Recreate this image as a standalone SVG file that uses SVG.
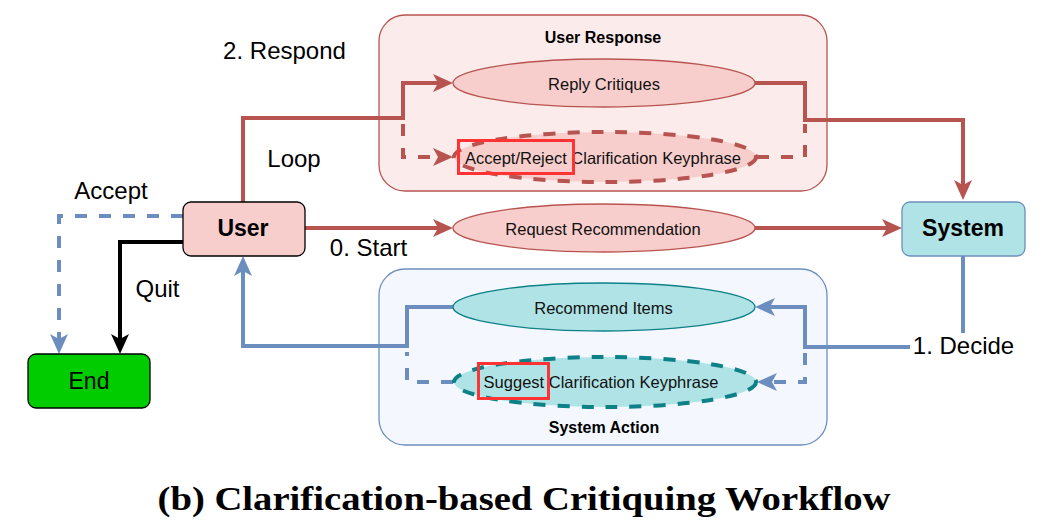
<svg xmlns="http://www.w3.org/2000/svg" width="1049" height="529" viewBox="0 0 1049 529">
<style>
.lbl{font-family:"Liberation Sans",Arial,sans-serif;font-size:24px;fill:#000}
.nodeTxt{font-family:"Liberation Sans",Arial,sans-serif;font-size:23px;font-weight:bold;fill:#000;text-anchor:middle}
.elTxt{font-family:"Liberation Sans",Arial,sans-serif;font-size:16.5px;fill:#111;text-anchor:middle}
.grpTxt{font-family:"Liberation Sans",Arial,sans-serif;font-size:16px;font-weight:bold;fill:#000;text-anchor:middle}
.red{fill:none;stroke:#b85450;stroke-width:4}
.blue{fill:none;stroke:#6c8ebf;stroke-width:4}
.blk{fill:none;stroke:#000;stroke-width:4}
.dash{stroke-dasharray:12 12}
.elR{fill:#f8cecc;stroke:#b85450;stroke-width:1.3}
.elT{fill:#b0e3e6;stroke:#0e8088;stroke-width:1.3}
.hl{fill:none;stroke:#ff3333;stroke-width:3}
</style>
<defs>
<marker id="aR" viewBox="0 0 20 20" refX="14" refY="10" markerWidth="20" markerHeight="20" markerUnits="userSpaceOnUse" orient="auto"><path d="M0,1 L20,10 L0,19 L5,10 z" fill="#b85450"/></marker>
<marker id="aB" viewBox="0 0 20 20" refX="14" refY="10" markerWidth="20" markerHeight="20" markerUnits="userSpaceOnUse" orient="auto"><path d="M0,1 L20,10 L0,19 L5,10 z" fill="#6c8ebf"/></marker>
<marker id="aK" viewBox="0 0 20 20" refX="14" refY="10" markerWidth="20" markerHeight="20" markerUnits="userSpaceOnUse" orient="auto"><path d="M0,1 L20,10 L0,19 L5,10 z" fill="#000"/></marker>
</defs>
<rect width="1049" height="529" fill="#fff"/>

<g id="user-response-group">
<rect x="379" y="15" width="448" height="176" rx="26" fill="#fcebeb" stroke="#b85450" stroke-width="1.3"/>
<text class="grpTxt" x="603" y="43">User Response</text>
</g>
<g id="system-action-group">
<rect x="379" y="269" width="448" height="176" rx="26" fill="#f4f8fe" stroke="#6c8ebf" stroke-width="1.3"/>
<text class="grpTxt" x="604" y="433">System Action</text>
</g>

<g id="connectors">
<path class="red" d="M243,202 V118 H403 V83 H447" marker-end="url(#aR)"/>
<path class="red dash" d="M403,124 V157 H447" marker-end="url(#aR)"/>
<path class="red" d="M755,83 H805 V120 H963 V194" marker-end="url(#aR)"/>
<path class="red dash" d="M757,157 H805 V124"/>
<path class="red" d="M305,228 H447" marker-end="url(#aR)"/>
<path class="red" d="M754,228 H896" marker-end="url(#aR)"/>
<path class="blue" d="M963,256 V347 H805 V307 H761" marker-end="url(#aB)"/>
<path class="blue dash" d="M805,353 V382 H763" marker-end="url(#aB)"/>
<path class="blue" d="M453,307 H407 V346 H243 V262" marker-end="url(#aB)"/>
<path class="blue dash" d="M453,382 H407 V352"/>
<path class="blue dash" d="M183,216 H59 V348" marker-end="url(#aB)"/>
<path class="blk" d="M183,242 H120 V348" marker-end="url(#aK)"/>
</g>

<g id="edge-labels">
<text class="lbl" x="284.5" y="59" text-anchor="middle">2. Respond</text>
<text class="lbl" x="294" y="167" text-anchor="middle">Loop</text>
<text class="lbl" x="368.5" y="256" text-anchor="middle">0. Start</text>
<text class="lbl" x="111" y="199" text-anchor="middle">Accept</text>
<text class="lbl" x="157.5" y="297" text-anchor="middle">Quit</text>
<rect x="910" y="333" width="108" height="26" fill="#fff"/>
<text class="lbl" x="963.5" y="354" text-anchor="middle">1. Decide</text>
</g>

<g id="reply-critiques">
<ellipse class="elR" cx="604" cy="83" rx="151" ry="24"/>
<text class="elTxt" x="604" y="90">Reply Critiques</text>
</g>
<g id="accept-reject-keyphrase">
<ellipse cx="605" cy="157" rx="151" ry="25" fill="#f8cecc" stroke="#b85450" stroke-width="4" stroke-dasharray="12 12"/>
<text class="elTxt" x="603" y="164">Accept/Reject Clarification Keyphrase</text>
<rect class="hl" x="458.5" y="140.5" width="115" height="33"/>
</g>
<g id="request-recommendation">
<ellipse class="elR" cx="604" cy="228" rx="151" ry="24"/>
<text class="elTxt" x="603" y="235">Request Recommendation</text>
</g>
<g id="recommend-items">
<ellipse class="elT" cx="604" cy="307" rx="151" ry="24"/>
<text class="elTxt" x="603.5" y="314">Recommend Items</text>
</g>
<g id="suggest-keyphrase">
<ellipse cx="605" cy="382" rx="151" ry="25" fill="#b0e3e6" stroke="#0e8088" stroke-width="4" stroke-dasharray="12 12"/>
<text class="elTxt" x="601" y="388">Suggest Clarification Keyphrase</text>
<rect class="hl" x="478.5" y="363.5" width="70" height="35"/>
</g>

<g id="user">
<rect x="183" y="202" width="122" height="54" rx="8" fill="#f8cecc" stroke="#000" stroke-width="1.3"/>
<text class="nodeTxt" x="243" y="236">User</text>
</g>
<g id="system">
<rect x="902" y="202" width="123" height="54" rx="8" fill="#b0e3e6" stroke="#6c8ebf" stroke-width="1.3"/>
<text class="nodeTxt" x="963" y="236">System</text>
</g>
<g id="end">
<rect x="28" y="354" width="122" height="54" rx="8" fill="#00cc00" stroke="#000" stroke-width="1.3"/>
<text x="89" y="389" text-anchor="middle" font-family="Liberation Sans, Arial, sans-serif" font-size="23" fill="#000">End</text>
</g>

<text x="524" y="510" text-anchor="middle" font-family="Liberation Serif, Times New Roman, serif" font-size="33" font-weight="bold" fill="#000" textLength="733" lengthAdjust="spacingAndGlyphs">(b) Clarification-based Critiquing Workflow</text>
</svg>
